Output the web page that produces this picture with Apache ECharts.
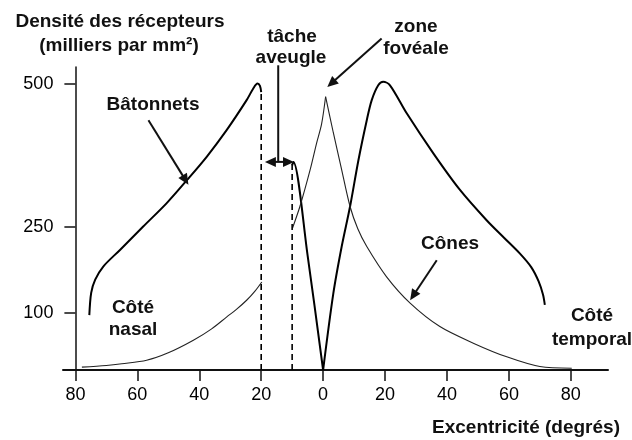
<!DOCTYPE html>
<html>
<head>
<meta charset="utf-8">
<script src="https://cdn.jsdelivr.net/npm/echarts@6/dist/echarts.min.js"></script>
<style>
  html, body { margin: 0; padding: 0; background: #fff; }
  #chart { width: 632px; height: 440px; }
</style>
</head>
<body>
<div id="chart"></div>
<script>
// Axis ticks: eccentricity in degrees on both sides of the fovea
const xTickValues = [-80, -60, -40, -20, 0, 20, 40, 60, 80];
const xTickLabels = ['80', '60', '40', '20', '0', '20', '40', '60', '80'];
const yTickValues = [100, 250, 500];
const yTickLabels = ['100', '250', '500'];

// Rod density (thousands per mm²), [eccentricity, density]
const rodsNasal = [
  [-75.5, 96], [-74.9, 135], [-73.6, 158], [-71.0, 181],
  [-65.6, 210], [-58.1, 251], [-50.5, 292], [-44.0, 332], [-37.6, 373],
  [-31.1, 420], [-24.7, 472], [-22.6, 492], [-21.2, 501], [-20.4, 497], [-20.0, 486]
];
const rodsFovea = [[-10.0, 358], [-9.6, 364], [-5.0, 200], [0, 0]];
const rodsTemporal = [
  [0, 0], [3.3, 134], [6.0, 216], [8.7, 286], [11.4, 367], [14.1, 437],
  [15.7, 472], [17.8, 498], [19.4, 504], [21.6, 498], [27.0, 449],
  [35.6, 379], [44.2, 315], [52.8, 262], [58.5, 231], [63.5, 204],
  [67.2, 180], [69.6, 155], [71.0, 132], [71.6, 114]
];

// Cone density (thousands per mm²)
const conesNasal = [
  [-77.9, 5], [-70, 8], [-65, 11], [-57.0, 17], [-50, 30], [-41.9, 52],
  [-36, 72], [-31.1, 93], [-28, 106], [-24.7, 122], [-22, 138], [-19.8, 154]
];
const conesFoveaLeft = [
  [-9.9, 248], [-7.5, 286], [-4.2, 350], [-2.1, 397], [-0.5, 430], [0.8, 478]
];
const conesTemporal = [
  [0.8, 478], [3.3, 415], [5.8, 355], [8.7, 286], [11.2, 247], [14.1, 216],
  [20.5, 163], [28.1, 117], [37.7, 76], [48.5, 47], [59.3, 23], [70, 6], [80.3, 3]
];

// Edges of the blind spot (optic disc), [eccentricity, height of the edge]
const blindSpotEdges = [[-20, 486], [-10, 360]];

const X_MIN = -84, X_MAX = 92, Y_MIN = 0, Y_MAX = 530;
const GRID = { left: 63, right: 24, top: 67, bottom: 70 };
const FONT = '"Liberation Sans", Arial, Helvetica, sans-serif';
const INK = '#111';

const plotWidth = 632 - GRID.left - GRID.right;
const pxPerDeg = plotWidth / (X_MAX - X_MIN);

const chart = echarts.init(document.getElementById('chart'), null, { renderer: 'canvas' });

function curve(data, width, color) {
  return {
    type: 'line', data: data, smooth: 0.3, showSymbol: false, symbol: 'none',
    silent: true, animation: false, clip: false,
    lineStyle: { color: color, width: width }
  };
}

const series = [
  curve(rodsNasal, 2, '#000'),
  curve(rodsFovea, 2, '#000'),
  curve(rodsTemporal, 2, '#000'),
  curve(conesNasal, 1.1, '#222'),
  curve(conesFoveaLeft, 1.1, '#222'),
  curve(conesTemporal, 1.1, '#222')
];
blindSpotEdges.forEach(function (e) {
  series.push({
    type: 'line', data: [[e[0], 0], [e[0], e[1]]], showSymbol: false, symbol: 'none',
    silent: true, animation: false,
    lineStyle: { color: '#000', width: 1.6, type: [6, 4] }
  });
});

chart.setOption({
  backgroundColor: '#fff',
  animation: false,
  grid: Object.assign({ outerBoundsMode: 'none', containLabel: false }, GRID),
  xAxis: {
    type: 'value', min: X_MIN, max: X_MAX,
    axisLine: { onZero: false, lineStyle: { color: INK, width: 2 } },
    axisTick: { customValues: xTickValues, length: 11, lineStyle: { color: INK, width: 1.5 } },
    axisLabel: {
      customValues: xTickValues,
      formatter: function (v) { return xTickLabels[xTickValues.indexOf(v)]; },
      margin: 16, fontSize: 18, color: '#000', fontFamily: FONT
    },
    splitLine: { show: false }
  },
  yAxis: {
    type: 'value', min: Y_MIN, max: Y_MAX,
    offset: -(xTickValues[0] - X_MIN) * pxPerDeg,
    axisLine: { show: true, onZero: false, lineStyle: { color: INK, width: 1.5 } },
    axisTick: { show: true, customValues: yTickValues, length: 11, lineStyle: { color: INK, width: 1.5 } },
    axisLabel: {
      customValues: yTickValues,
      formatter: function (v) { return yTickLabels[yTickValues.indexOf(v)]; },
      margin: 22, fontSize: 18, color: '#000', fontFamily: FONT
    },
    splitLine: { show: false }
  },
  series: series
});

// Annotation pointers, anchored in data space
function px(p) { return chart.convertToPixel({ gridIndex: 0 }, p); }

function arrow(from, to, heads) {
  const a = px(from), b = px(to);
  const dx = b[0] - a[0], dy = b[1] - a[1];
  const len = Math.sqrt(dx * dx + dy * dy);
  const ux = dx / len, uy = dy / len, nx = -uy, ny = ux;
  const L = 11, W = 5;
  const els = [];
  let s = a.slice(), e = b.slice();
  function head(tip, dirx, diry) {
    els.push({
      type: 'polygon', silent: true, z: 10,
      shape: { points: [
        [tip[0], tip[1]],
        [tip[0] - dirx * L + nx * W, tip[1] - diry * L + ny * W],
        [tip[0] - dirx * L - nx * W, tip[1] - diry * L - ny * W]
      ] },
      style: { fill: INK }
    });
  }
  if (heads.end) { head(b, ux, uy); e = [b[0] - ux * (L - 2), b[1] - uy * (L - 2)]; }
  if (heads.start) { head(a, -ux, -uy); s = [a[0] + ux * (L - 2), a[1] + uy * (L - 2)]; }
  els.push({
    type: 'line', silent: true, z: 10,
    shape: { x1: s[0], y1: s[1], x2: e[0], y2: e[1] },
    style: { stroke: INK, lineWidth: 2 }
  });
  return els;
}

function label(text, x, y) {
  return {
    type: 'text', x: x, y: y, silent: true, z: 20,
    style: { text: text, font: 'bold 19px ' + FONT, fill: INK, align: 'center', verticalAlign: 'middle' }
  };
}

const graphics = [].concat(
  arrow([-56.4, 437], [-43.5, 324], { end: true }),          // Bâtonnets
  arrow([18.9, 580], [1.35, 495], { end: true }),            // zone fovéale
  arrow([36.7, 192], [28.1, 122], { end: true }),            // Cônes
  arrow([-18.8, 364], [-9.4, 364], { start: true, end: true }), // tâche aveugle span
  arrow([-14.5, 533], [-14.5, 364], {}),                     // tâche aveugle leader
  [
    label('Densité des récepteurs', 120, 22),
    label('(milliers par mm²)', 119, 46),
    label('tâche', 292, 37),
    label('aveugle', 291, 58),
    label('zone', 416, 27),
    label('fovéale', 416, 49),
    label('Bâtonnets', 153, 105),
    label('Côté', 133, 308),
    label('nasal', 133, 330),
    label('Cônes', 450, 244),
    label('Côté', 592, 316),
    label('temporal', 592, 340),
    label('Excentricité (degrés)', 526, 428)
  ]
);

chart.setOption({ graphic: graphics });
</script>
</body>
</html>
